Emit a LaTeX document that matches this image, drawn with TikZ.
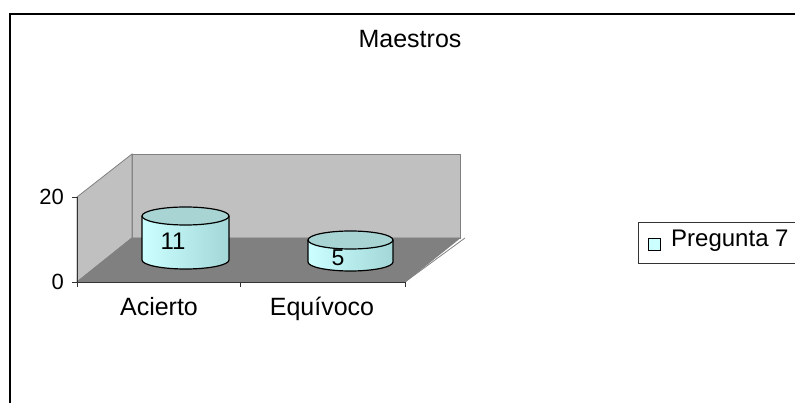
\documentclass[tikz,border=0pt]{standalone}
\usepackage{fontspec}
\setmainfont{Liberation Sans}
\definecolor{barside}{HTML}{CCFFFF}
\definecolor{bardark}{HTML}{99CCCC}
\definecolor{wallgray}{HTML}{C0C0C0}
\definecolor{floorgray}{HTML}{808080}
\tikzset{
  lbl/.style={inner sep=0pt, anchor=base, font=\fontsize{25}{27}\selectfont},
  wall/.style={draw=floorgray, line width=0.8pt},
  axis/.style={draw=black!80, line width=0.8pt}
}
\begin{document}
\begin{tikzpicture}[x=1pt,y=-1pt]
\useasboundingbox (0,0) rectangle (795,403);
% chart frame (cut off right and bottom)
\draw[line width=1.6pt] (10,403) -- (10,14) -- (795,14);
\node[lbl] (title) at (410,48) {Maestros};

% walls and floor
\coordinate (ftl) at (77,197);
\coordinate (fbl) at (77,282);
\coordinate (fbr) at (405,282);
\coordinate (btl) at (132,154);
\coordinate (bbl) at (132,238);
\coordinate (btr) at (460,154);
\coordinate (bbr) at (460,238);
\filldraw[wall, fill=wallgray] (bbl) -- (btl) -- (btr) -- (bbr) -- cycle;
\filldraw[wall, fill=wallgray] (fbl) -- (ftl) -- (btl) -- (bbl) -- cycle;
\filldraw[wall, fill=floorgray] (fbl) -- (bbl) -- (bbr) -- (fbr) -- cycle;
\draw[wall] (fbr) -- (465,238);

% axes and ticks
\draw[axis] (ftl) -- (fbl) -- (fbr);
\draw[axis] (ftl) -- ++(-5,0);
\draw[axis] (fbl) -- ++(-5,0);
\draw[axis] (fbl) -- ++(0,5);
\draw[axis] (240,282) -- ++(0,5);
\draw[axis] (fbr) -- ++(0,5);
\node[lbl, anchor=base east, font=\fontsize{22}{24}\selectfont] (y20) at (64,205) {20};
\node[lbl, anchor=base east, font=\fontsize{22}{24}\selectfont] (y0) at (64,290) {0};
\node[lbl] (cat1) at (159,316) {Acierto};
\node[lbl] (cat2) at (322,316) {Equívoco};

% bar Acierto
\shade[left color=barside, right color=bardark!80!barside] (142,216) -- (142,260)
  arc[start angle=180, end angle=0, x radius=43.5, y radius=9] -- (229,216) -- cycle;
\draw[line width=1.2pt] (142,216) -- (142,260)
  arc[start angle=180, end angle=0, x radius=43.5, y radius=9] -- (229,216);
\filldraw[fill=bardark!85!white, line width=1.2pt] (185.5,216) ellipse[x radius=43.5, y radius=9];
\node[lbl, font=\fontsize{24}{26}\selectfont] (v11) at (173,250) {11};

% bar Equivoco
\shade[left color=barside, right color=bardark!80!barside] (308,240) -- (308,262)
  arc[start angle=180, end angle=0, x radius=42.5, y radius=9] -- (393,240) -- cycle;
\draw[line width=1.2pt] (308,240) -- (308,262)
  arc[start angle=180, end angle=0, x radius=42.5, y radius=9] -- (393,240);
\filldraw[fill=bardark!85!white, line width=1.2pt] (350.5,240) ellipse[x radius=42.5, y radius=9];
\node[lbl, font=\fontsize{23}{25}\selectfont] (v5) at (338,266) {5};

% legend
\draw[draw=black!80, line width=0.8pt] (795,222) -- (638,222) -- (638,263) -- (795,263);
\filldraw[fill=barside, line width=0.8pt] (648,238) rectangle (660,250);
\node[lbl, anchor=base west, font=\fontsize{24}{26}\selectfont] (leg) at (671,247) {Pregunta 7};
\end{tikzpicture}
\end{document}
